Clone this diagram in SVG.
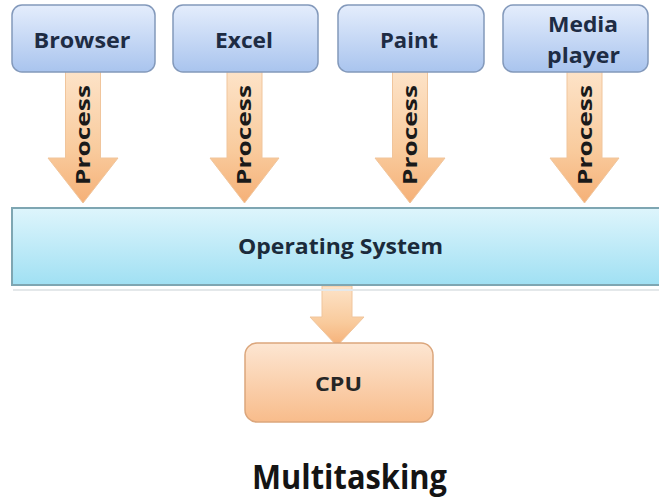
<svg xmlns="http://www.w3.org/2000/svg" width="659" height="499" viewBox="0 0 659 499">
<defs>
<linearGradient id="gBlue" x1="0" y1="0" x2="0" y2="1">
<stop offset="0" stop-color="#e4edfc"/><stop offset="1" stop-color="#a9c4ee"/>
</linearGradient>
<linearGradient id="gArrow" x1="0" y1="0" x2="0" y2="1">
<stop offset="0" stop-color="#fde3c8"/><stop offset="0.6" stop-color="#f9cb9d"/><stop offset="1" stop-color="#f5b077"/>
</linearGradient>
<linearGradient id="gOS" x1="0" y1="0" x2="0" y2="1">
<stop offset="0" stop-color="#def5fc"/><stop offset="1" stop-color="#a0e0f3"/>
</linearGradient>
<linearGradient id="gCPU" x1="0" y1="0" x2="0" y2="1">
<stop offset="0" stop-color="#fde6d2"/><stop offset="1" stop-color="#f8bc8b"/>
</linearGradient>
</defs>
<style>
.app{fill:url(#gBlue);stroke:#8399bb;stroke-width:1.5}
.arr{fill:url(#gArrow);stroke:#f0c59c;stroke-width:1}
.lbl{font-family:"Open Sans","Noto Sans",sans-serif;font-weight:bold;font-size:21px;fill:#1e2c44;text-anchor:middle}
.proc{font-family:"Open Sans","Noto Sans",sans-serif;font-weight:bold;font-size:20px;fill:#1a1a1a;text-anchor:middle}
</style>
<rect width="659" height="499" fill="#ffffff"/>

<g id="connectors">
<path class="arr" d="M65.5,71 H100.5 V158 H118 L83,203 L48,158 H65.5 Z"/>
<path class="arr" d="M227,71 H262 V158 H279 L244.5,203 L210,158 H227 Z"/>
<path class="arr" d="M392.5,71 H427.5 V158 H445 L410,203 L375,158 H392.5 Z"/>
<path class="arr" d="M567,71 H602 V158 H619 L584.5,203 L550,158 H567 Z"/>
<text class="proc" transform="translate(89.5,135) rotate(-90)" textLength="100" lengthAdjust="spacingAndGlyphs">Process</text>
<text class="proc" transform="translate(251,135) rotate(-90)" textLength="100" lengthAdjust="spacingAndGlyphs">Process</text>
<text class="proc" transform="translate(417,135) rotate(-90)" textLength="100" lengthAdjust="spacingAndGlyphs">Process</text>
<text class="proc" transform="translate(591.5,135) rotate(-90)" textLength="100" lengthAdjust="spacingAndGlyphs">Process</text>
<path class="arr" d="M322,286 H352 V317 H364 L337,346 L310,317 H322 Z"/>
</g>

<g id="browser">
<rect class="app" x="12" y="5" width="143" height="67" rx="10"/>
<text class="lbl" x="82" y="48" textLength="97" lengthAdjust="spacingAndGlyphs">Browser</text>
</g>
<g id="excel">
<rect class="app" x="173" y="5" width="145" height="67" rx="10"/>
<text class="lbl" x="244" y="48" textLength="58" lengthAdjust="spacingAndGlyphs">Excel</text>
</g>
<g id="paint">
<rect class="app" x="338" y="5" width="146" height="67" rx="10"/>
<text class="lbl" x="409" y="48" textLength="58" lengthAdjust="spacingAndGlyphs">Paint</text>
</g>
<g id="media-player">
<rect class="app" x="503" y="5" width="145" height="67" rx="10"/>
<text class="lbl" x="583" y="32" textLength="70" lengthAdjust="spacingAndGlyphs">Media</text>
<text class="lbl" x="583.5" y="63" textLength="73" lengthAdjust="spacingAndGlyphs">player</text>
</g>

<g id="operating-system">
<rect x="13" y="289" width="650" height="2" fill="#e4e8ea"/>
<rect x="12" y="208" width="652" height="77" fill="url(#gOS)" stroke="#7ea6b2" stroke-width="2"/>
<text x="340.5" y="254" font-family="'Open Sans','Noto Sans',sans-serif" font-weight="bold" font-size="22" fill="#1b2b3b" text-anchor="middle" textLength="205" lengthAdjust="spacingAndGlyphs">Operating System</text>
</g>

<g id="cpu">
<rect x="245" y="343" width="188" height="79" rx="12" fill="url(#gCPU)" stroke="#dba67c" stroke-width="1.5"/>
<text x="338.5" y="391" font-family="'Open Sans','Noto Sans',sans-serif" font-weight="bold" font-size="19" fill="#262626" text-anchor="middle" textLength="47" lengthAdjust="spacingAndGlyphs">CPU</text>
</g>

<g id="title">
<text x="349.5" y="489" font-family="'Open Sans','Noto Sans',sans-serif" font-weight="bold" font-size="34" fill="#141414" text-anchor="middle" textLength="195" lengthAdjust="spacingAndGlyphs">Multitasking</text>
</g>
</svg>
